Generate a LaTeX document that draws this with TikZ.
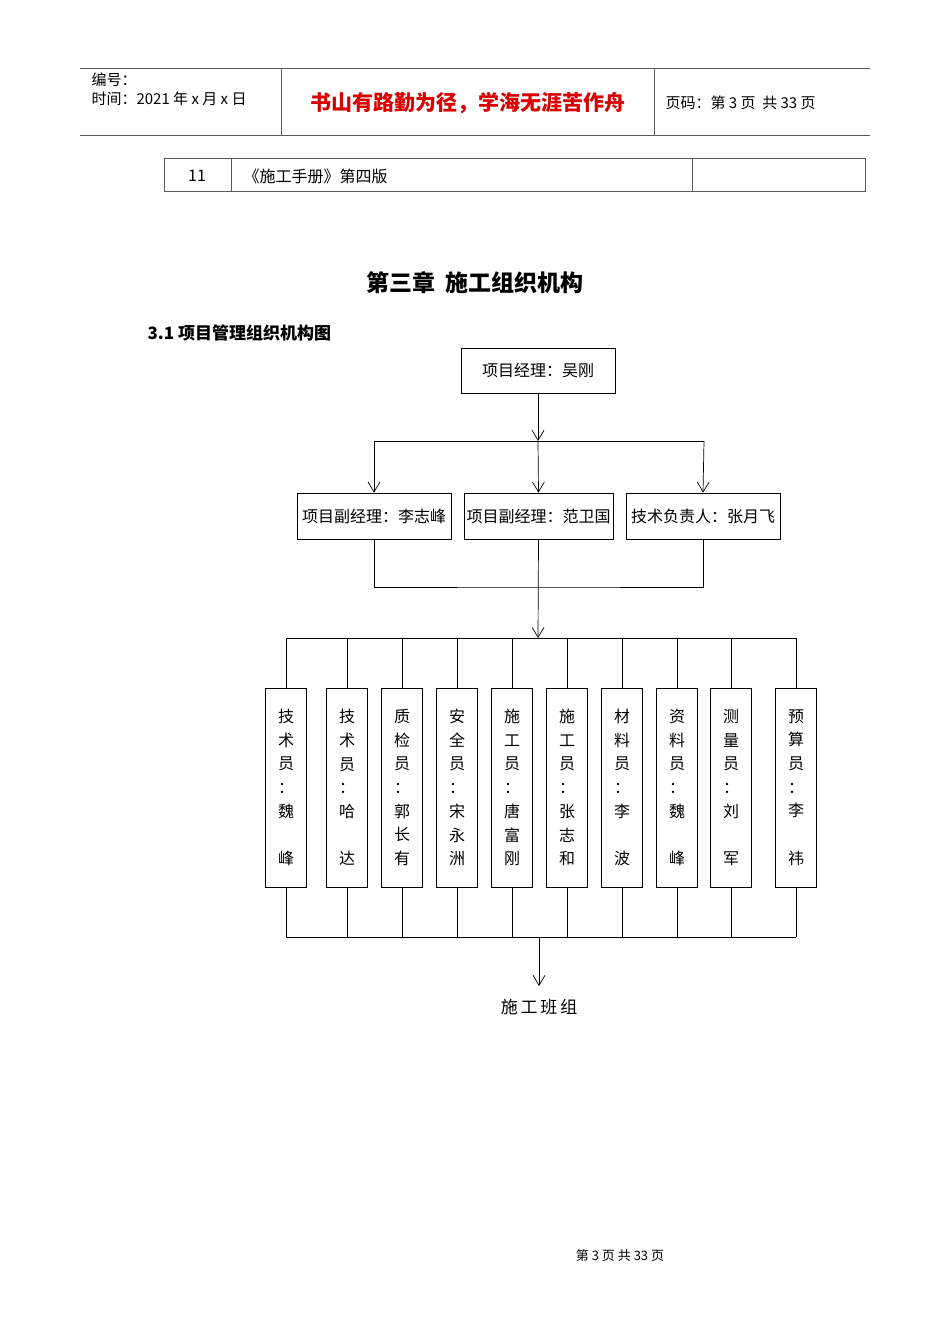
\documentclass[tikz,border=0pt]{standalone}
\usepackage{fontspec}
\setmainfont{Noto Sans CJK SC}
\usetikzlibrary{arrows.meta}
\begin{document}
\begin{tikzpicture}[x=1pt,y=-1pt,
  box/.style={draw,line width=0.8pt,fill=white,inner sep=0pt,font=\fontsize{16}{16}\selectfont},
  vbox/.style={box,minimum width=41pt,minimum height=199pt,align=center,font=\fontsize{16}{23.7}\selectfont},
  ln/.style={line width=0.7pt},
  arr/.style={ln,-{Straight Barb[length=10pt,width=12pt]}}]
\useasboundingbox (0,0) rectangle (950,1344);
% header
\draw[line width=0.8pt,gray!70!black] (80,68)--(870,68) (80,135)--(870,135) (281,68)--(281,135) (654,68)--(654,135);
\node[anchor=west,font=\fontsize{15}{15}\selectfont] (h1) at (88,80) {编号：};
\node[anchor=west,font=\fontsize{15}{15}\selectfont] (h2) at (88,99) {时间：2021 年 x 月 x 日};
\node[font=\bfseries\fontsize{21}{21}\selectfont,text=red!85!black] (h3) at (468,103) {书山有路勤为径，学海无涯苦作舟};
\node[anchor=west,font=\fontsize{15}{15}\selectfont] (h4) at (662,103) {页码：第 3 页\ \ 共 33 页};
% table
\draw[line width=0.8pt,gray!70!black] (164,158) rectangle (865,191) (231,158)--(231,191) (692,158)--(692,191);
\node[font=\fontsize{16}{16}\selectfont] (t1) at (197,176) {11};
\node[anchor=west,font=\fontsize{16}{16}\selectfont] (t2) at (240,176) {《施工手册》第四版};
% titles
\node[font=\bfseries\fontsize{23}{23}\selectfont] (title) at (475,283) {第三章\ \ 施工组织机构};
\node[anchor=west,font=\bfseries\fontsize{17}{17}\selectfont] (sub) at (144,333) {3.1 项目管理组织机构图};
% top
\node[box,minimum width=154pt,minimum height=45pt] (pm) at (538,370.5) {项目经理：吴刚};
\node[box,minimum width=154pt,minimum height=46pt] (d1) at (374,516) {项目副经理：李志峰};
\node[box,minimum width=149pt,minimum height=46pt] (d2) at (538.5,516) {项目副经理：范卫国};
\node[box,minimum width=154pt,minimum height=46pt] (d3) at (703,516) {技术负责人：张月飞};
\coordinate (b1) at (538,441);
\draw[arr] (pm.south) -- (b1);
\draw[ln] (374,441) -- (704,441);
\draw[arr] (374,441) -- (d1.north);
\draw[arr] (b1) -- (d2.north);
\draw[arr] (704,441) -- (d3.north);
\draw[ln] (d1.south) |- (538,587) -| (d3.south);
\coordinate (b2) at (538,638);
\draw[arr] (d2.south) -- (b2);
% bottom row
\foreach \n/\x/\t in {
 a/286/技\\术\\员\\：\\魏\\ \\峰,
 b/347/技\\术\\员\\：\\哈\\ \\达,
 c/402/质\\检\\员\\：\\郭\\长\\有,
 d/457/安\\全\\员\\：\\宋\\永\\洲,
 e/512/施\\工\\员\\：\\唐\\富\\刚,
 f/567/施\\工\\员\\：\\张\\志\\和,
 g/622/材\\料\\员\\：\\李\\ \\波,
 h/677/资\\料\\员\\：\\魏\\ \\峰,
 i/731/测\\量\\员\\：\\刘\\ \\军,
 j/796/预\\算\\员\\：\\李\\ \\祎}{
  \node[vbox] (s\n) at (\x,787.5) {\t};
  \draw[ln] (\x,638) -- (s\n.north);
  \draw[ln] (s\n.south) -- (\x,937);
}
\draw[ln] (286,638) -- (796,638);
\draw[ln] (286,937) -- (796,937);
\node[font=\fontsize{17}{17}\selectfont] (team) at (539,1007) {施\,工\,班\,组};
\coordinate (b3) at (539,937);
\coordinate (b4) at (539,986);
\draw[arr] (b3) -- (b4);
% footer
\node[font=\fontsize{13}{13}\selectfont] (foot) at (620,1256) {第\ 3\ 页\ 共\ 33\ 页};
\end{tikzpicture}
\end{document}
